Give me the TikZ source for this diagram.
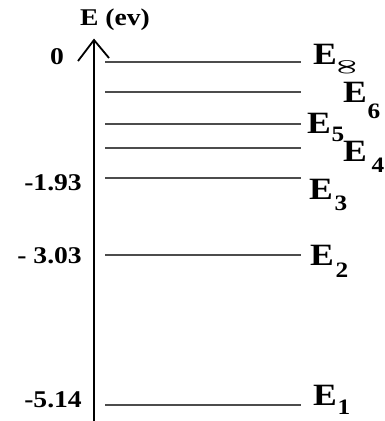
\documentclass[tikz,border=0pt]{standalone}
\usepackage{fontspec}
\setmainfont{Liberation Serif}[FakeStretch=1.15]
\usepackage{graphicx}
\begin{document}
\begin{tikzpicture}[x=1pt,y=-1pt,
  level/.style={line width=2.6pt, draw=black!70},
  lab/.style={font=\fontsize{31}{31}\selectfont\bfseries, inner sep=0pt},
  sublab/.style={font=\fontsize{22}{22}\selectfont\bfseries, inner sep=0pt},
  ticklab/.style={font=\fontsize{24}{24}\selectfont\bfseries, inner sep=0pt, anchor=east}]
\useasboundingbox (0,0) rectangle (385,421);
% axis
\coordinate (base) at (94,421);
\coordinate (tip) at (94,40);
\draw[line width=2.8pt] (base) -- (tip);
\coordinate (hl) at (78,61);
\coordinate (hr) at (109,58);
\draw[line width=1.8pt, line join=miter] (hl) -- (tip) -- (hr);
\node[font=\fontsize{24}{24}\selectfont\bfseries, inner sep=0pt] (axlab) at (115,20) {E (ev)};
% levels
\foreach \n/\y in {inf/62, six/92, five/124, four/148, three/178, two/255, one/405}{
  \coordinate (\n a) at (105,\y);
  \coordinate (\n b) at (301,\y);
  \draw[level] (\n a) -- (\n b);
}
% tick labels
\node[ticklab] (t0) at (64,57) {0};
\node[ticklab] (t3) at (82,183) {-1.93};
\node[ticklab] (t2) at (82,256) {- 3.03};
\node[ticklab] (t1) at (82,400) {-5.14};
% level labels
\node[lab] (Einf) at (325,54) {E};
\node[sublab] (sinf) at (349,67) {\rotatebox{90}{\scalebox{0.8}[2.0]{∞}}};
\node[lab] (E6) at (355,92) {E};
\node[sublab] (s6) at (374,111) {6};
\node[lab] (E5) at (319,123) {E};
\node[sublab] (s5) at (338,134) {5};
\node[lab] (E4) at (355,151) {E};
\node[sublab] (s4) at (378,165) {4};
\node[lab] (E3) at (321,189) {E};
\node[sublab] (s3) at (341,203) {3};
\node[lab] (E2) at (322,255) {E};
\node[sublab] (s2) at (342,270) {2};
\node[lab] (E1) at (325,395) {E};
\node[sublab] (s1) at (344,407) {1};
\end{tikzpicture}
\end{document}
